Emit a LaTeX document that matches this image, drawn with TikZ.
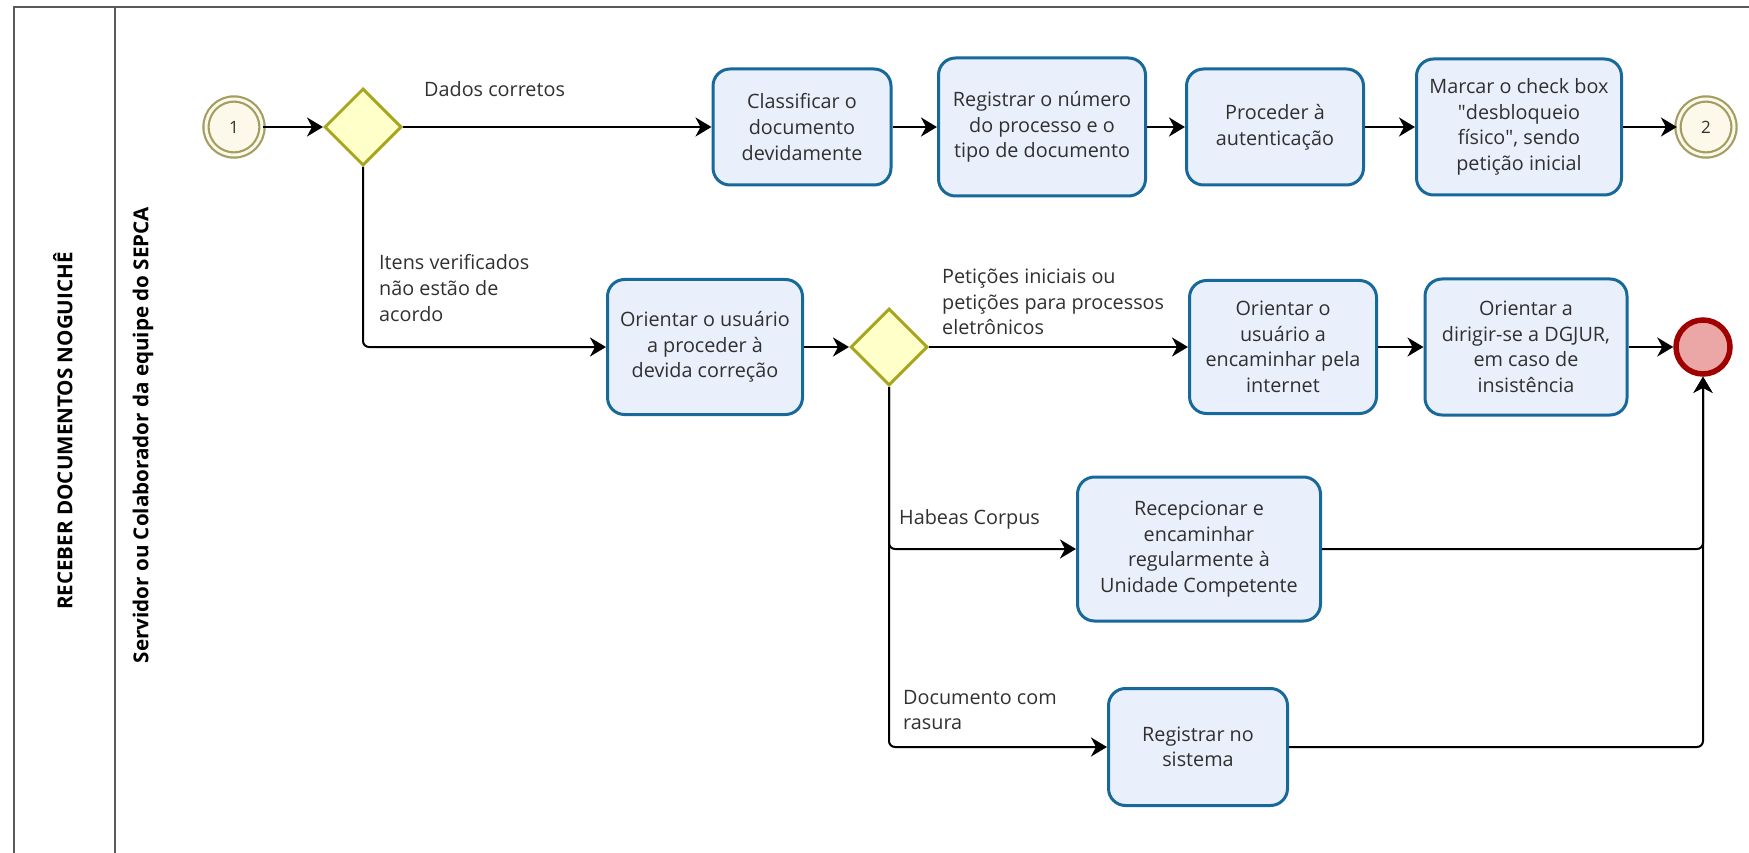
\documentclass[tikz,border=0pt]{standalone}
\usepackage{fontspec}
\setmainfont{Open Sans}
\usetikzlibrary{shapes.geometric,arrows.meta}

\definecolor{taskline}{HTML}{17699A}
\definecolor{taskfill}{HTML}{EAEFFC}
\definecolor{gateline}{HTML}{A7A61F}
\definecolor{gatefill}{HTML}{FFFFC9}
\definecolor{evline}{HTML}{A29E62}
\definecolor{evfill}{HTML}{FDF9EA}
\definecolor{endline}{HTML}{A00000}
\definecolor{endfill}{HTML}{EBA6A6}
\definecolor{lanegray}{HTML}{5A5A5A}
\definecolor{labeltext}{HTML}{303030}

\tikzset{
  basefont/.style={font=\fontsize{19.8}{25.6}\selectfont, text=labeltext},
  task/.style={basefont, draw=taskline, fill=taskfill, line width=3pt,
    rounded corners=17pt, align=center, inner sep=2pt},
  gateway/.style={diamond, draw=gateline, fill=gatefill, line width=3pt,
    minimum width=77pt, minimum height=77pt, inner sep=0pt},
  linkevent/.style={circle, draw=evline, fill=evfill, line width=2.2pt,
    minimum size=56pt, inner sep=0pt, double=evfill, double distance=3pt,
    basefont, font=\fontsize{17}{20}\selectfont},
  endevent/.style={circle, draw=endline, fill=endfill, line width=5.5pt,
    minimum size=54pt, inner sep=0pt},
  flow/.style={draw=black, line width=2pt,
    -{Stealth[length=16pt, width=19pt, inset=5pt]}},
  elbow/.style={flow, rounded corners=6pt},
  flowlabel/.style={basefont, align=left, anchor=west, inner sep=0pt},
  lanelabel/.style={font=\bfseries\fontsize{20.6}{24}\selectfont, text=black,
    rotate=90, inner sep=0pt},
  laneline/.style={draw=lanegray, line width=2pt},
}

\begin{document}
\begin{tikzpicture}[x=1pt, y=-1pt]
  \useasboundingbox (0,0) rectangle (1749,853);

  % pool and lane frame
  \draw[laneline] (1749,7) -- (14,7) -- (14,853);
  \draw[laneline] (115,7) -- (115,853);
  \node[lanelabel] (pool) at (63,431) {RECEBER DOCUMENTOS NOGUICHÊ};
  \node[lanelabel] (lane) at (143,435) {Servidor ou Colaborador da equipe do SEPCA};

  % first row
  \node[linkevent] (s1) at (234,127) {1};
  \node[gateway] (gw1) at (363,127) {};
  \node[task, minimum width=178pt, minimum height=116pt] (classif) at (802,127)
    {Classificar o\\documento\\devidamente};
  \node[task, minimum width=207pt, minimum height=138pt] (regproc) at (1042,127)
    {Registrar o número\\do processo e o\\tipo de documento};
  \node[task, minimum width=177pt, minimum height=116pt] (autent) at (1275,127)
    {Proceder à\\autenticação};
  \node[task, minimum width=205pt, minimum height=136pt] (marcar) at (1519,127)
    {Marcar o check box\\\textquotedbl desbloqueio\\físico\textquotedbl, sendo\\petição inicial};
  \node[linkevent] (s2) at (1706,127) {2};

  % second row
  \node[task, minimum width=195pt, minimum height=135pt] (orient1) at (705,347)
    {Orientar o usuário\\a proceder à\\devida correção};
  \node[gateway] (gw2) at (889,347) {};
  \node[task, minimum width=187pt, minimum height=133pt] (orient2) at (1283,347)
    {Orientar o\\usuário a\\encaminhar pela\\internet};
  \node[task, minimum width=202pt, minimum height=136pt] (dirigir) at (1526,347)
    {Orientar a\\dirigir-se a DGJUR,\\em caso de\\insistência};
  \node[endevent] (fim) at (1703,347) {};

  % lower branches
  \node[task, minimum width=243pt, minimum height=144pt] (recep) at (1199,549)
    {Recepcionar e\\encaminhar\\regularmente à\\Unidade Competente};
  \node[task, minimum width=179pt, minimum height=117pt] (regsis) at (1198,747)
    {Registrar no\\sistema};

  % sequence flows
  \draw[flow] (s1) -- (gw1);
  \draw[flow] (gw1.east) -- (classif.west);
  \draw[flow] (classif) -- (regproc);
  \draw[flow] (regproc) -- (autent);
  \draw[flow] (autent) -- (marcar);
  \draw[flow] (marcar) -- (s2);
  \draw[elbow] (gw1.south) |- (orient1.west);
  \draw[flow] (orient1) -- (gw2);
  \draw[flow] (gw2.east) -- (orient2.west);
  \draw[flow] (orient2) -- (dirigir);
  \draw[flow] (dirigir) -- (fim);
  \draw[elbow] (gw2.south) |- (recep.west);
  \draw[elbow] (gw2.south) |- (regsis.west);
  \draw[elbow] (recep.east) -| (fim.south);
  \draw[elbow] (regsis.east) -| (fim.south);

  % flow conditions
  \node[flowlabel] (lbl1) at (424,89) {Dados corretos};
  \node[flowlabel] (lbl2) at (379,288) {Itens verificados\\não estão de\\acordo};
  \node[flowlabel] (lbl3) at (942,302) {Petições iniciais ou\\petições para processos\\eletrônicos};
  \node[flowlabel] (lbl4) at (899,519) {Habeas Corpus};
  \node[flowlabel] (lbl5) at (903,710) {Documento com\\rasura};
\end{tikzpicture}
\end{document}
